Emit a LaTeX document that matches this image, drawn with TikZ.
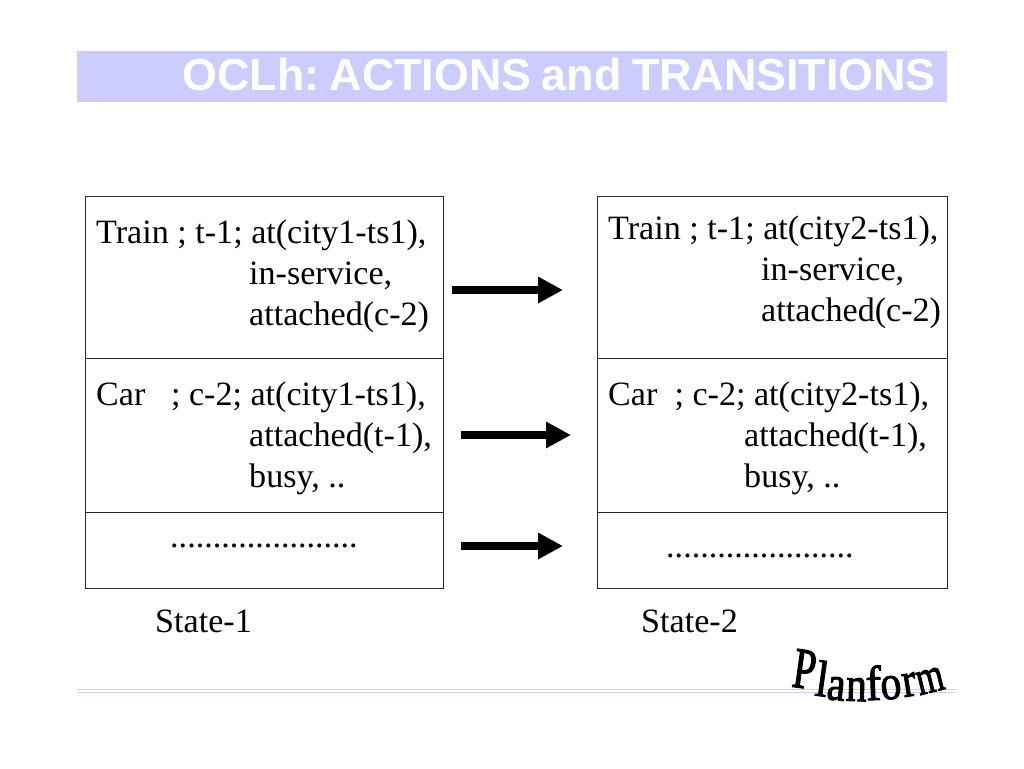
\documentclass[tikz,border=0pt]{standalone}
\usepackage{fontspec}
\setmainfont{Liberation Serif}
\newfontfamily\titlefont{Liberation Sans}
\newfontfamily\wafont[FakeBold=2]{Liberation Serif}
\usetikzlibrary{arrows.meta}
\tikzset{
  cell/.style={draw=black!85,line width=1pt,outer sep=0pt,fill=white,anchor=north west,inner sep=0pt},
  txt/.style={anchor=base west,inner sep=0pt,font=\fontsize{34.1}{34}\selectfont,text=black},
  bigarrow/.style={line width=8pt,-{Triangle[length=25pt,width=25pt]},shorten >=0pt},
  wa/.style={inner sep=0pt,anchor=base,text=black}
}
\newcommand{\wl}[2]{\scalebox{#1}[1]{\wafont #2}}
\definecolor{bar}{RGB}{204,204,255}
\begin{document}
\begin{tikzpicture}[x=1pt,y=-1pt]
\useasboundingbox (0,0) rectangle (1024,768);
\fill[white] (0,0) rectangle (1024,768);
\node[fill=bar,inner sep=0pt,outer sep=0pt,anchor=north west,minimum width=870pt,minimum height=51pt] (titlebar) at (77,51) {};
\node[anchor=base east,inner sep=0pt,text=white,font=\titlefont\bfseries\fontsize{44.8}{45}\selectfont] (title) at (936,90) {\frenchspacing\spaceskip=10.5pt\relax OCLh: ACTIONS and TRANSITIONS};
\draw[color=bar,line width=1.5pt] (77,689.5) -- (956,689.5);
\draw[color=bar,line width=1.5pt] (77,692.5) -- (956,692.5);
% left cells
\node[cell,minimum width=358pt,minimum height=162pt] (L1) at (85.5,196.5) {};
\node[cell,minimum width=358pt,minimum height=154pt] (L2) at (85.5,358.5) {};
\node[cell,minimum width=358pt,minimum height=76pt] (L3) at (85.5,512.5) {};
% right cells
\node[cell,minimum width=350pt,minimum height=162pt] (R1) at (597.5,196.5) {};
\node[cell,minimum width=350pt,minimum height=154pt] (R2) at (597.5,358.5) {};
\node[cell,minimum width=350pt,minimum height=76pt] (R3) at (597.5,512.5) {};
% left text
\node[txt] (a1) at (96,243) {Train ; t-1; at(city1-ts1),};
\node[txt] (a2) at (249,284) {in-service,};
\node[txt] (a3) at (249,325) {attached(c-2)};
\node[txt] (b1) at (96,405) {Car\hspace{0.5em} ; c-2; at(city1-ts1),};
\node[txt] (b2) at (249,446) {attached(t-1),};
\node[txt] (b3) at (249,487) {busy, ..};
\node[txt] (c1) at (170,547) {......................};
\node[txt] (s1) at (155,632) {State-1};
% right text
\node[txt] (d1) at (608,239) {Train ; t-1; at(city2-ts1),};
\node[txt] (d2) at (761,280) {in-service,};
\node[txt] (d3) at (761,321) {attached(c-2)};
\node[txt] (e1) at (608,405) {Car\hspace{0.25em} ; c-2; at(city2-ts1),};
\node[txt] (e2) at (744,446) {attached(t-1),};
\node[txt] (e3) at (744,487) {busy, ..};
\node[txt] (f1) at (666,557) {......................};
\node[txt] (s2) at (641,632) {State-2};
% arrows
\coordinate (p1) at (452,290); \coordinate (q1) at (563,290);
\coordinate (p2) at (461,435); \coordinate (q2) at (571,435);
\coordinate (p3) at (461,546); \coordinate (q3) at (563,546);
\draw[bigarrow] (p1) -- (q1);
\draw[bigarrow] (p2) -- (q2);
\draw[bigarrow] (p3) -- (q3);
% Planform
\node[wa,rotate=-8,font=\fontsize{58}{58}\selectfont] (w1) at (802,688) {\wl{.7}{P}};
\node[wa,rotate=-8,font=\fontsize{51}{51}\selectfont] (w2) at (820,696) {\wl{.85}{l}};
\node[wa,rotate=-6,font=\fontsize{49}{49}\selectfont] (w3) at (835,700) {\wl{.85}{a}};
\node[wa,rotate=-2,font=\fontsize{49}{49}\selectfont] (w4) at (856,701) {\wl{.85}{n}};
\node[wa,rotate=2,font=\fontsize{49}{49}\selectfont] (w5) at (874,700) {\wl{.95}{f}};
\node[wa,rotate=5,font=\fontsize{49}{49}\selectfont] (w6) at (892,699) {\wl{.85}{o}};
\node[wa,rotate=9,font=\fontsize{49}{49}\selectfont] (w7) at (911,696) {\wl{.85}{r}};
\node[wa,rotate=14,font=\fontsize{49}{49}\selectfont] (w8) at (933,692) {\wl{.72}{m}};
\end{tikzpicture}
\end{document}
